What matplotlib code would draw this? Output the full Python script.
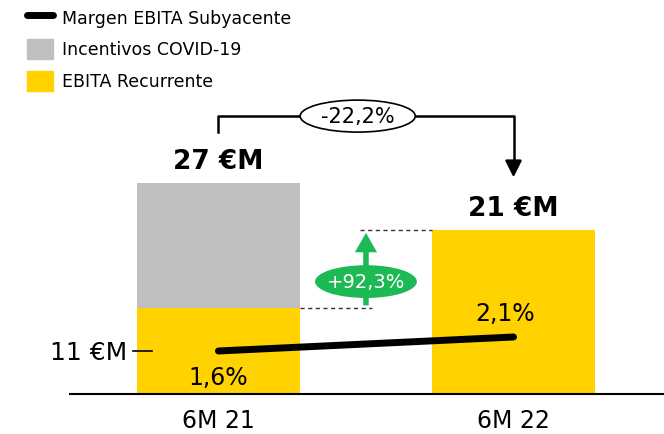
import matplotlib
matplotlib.use('Agg')
import matplotlib.pyplot as plt
from matplotlib.patches import Ellipse, Patch
from matplotlib.lines import Line2D

plt.rcParams['font.family'] = ['DejaVu Sans']

# datos
periodos = ['6M 21', '6M 22']
ebita_recurrente = [11, 21]
incentivos_covid = [16, 0]
margen = [1.6, 2.1]
etiquetas_total = ['27 €M', '21 €M']
etiquetas_margen = ['1,6%', '2,1%']
var_total = '-22,2%'
var_recurrente = '+92,3%'

amarillo = '#FFD200'
gris = '#BFBFBF'
verde = '#1DB954'

fig = plt.figure(figsize=(6.64, 4.35), dpi=100)
ax = fig.add_axes([70/664, 1 - 395/435, 1 - 70/664, 395/435])

x = [0, 1]
total = [a + b for a, b in zip(ebita_recurrente, incentivos_covid)]
ax.bar(x, ebita_recurrente, width=0.553, color=amarillo, zorder=2)
ax.bar(x, incentivos_covid, width=0.553, bottom=ebita_recurrente, color=gris, zorder=2)

ax.set_xlim(-0.503, 1.51)
ax.set_ylim(0, 50.6)
for s in ['top', 'right', 'left']:
    ax.spines[s].set_visible(False)
ax.spines['bottom'].set_linewidth(1.5)
ax.set_yticks([])
ax.set_xticks(x)
ax.set_xticklabels(periodos, fontsize=17)
ax.tick_params(axis='x', length=0, pad=10)

for xi, t, lab in zip(x, total, etiquetas_total):
    ax.text(xi, t + 2.8, lab, ha='center', va='center', fontsize=19, fontweight='bold')

# flecha -22,2%
yb = 35.6
ax.plot([x[0], x[0], x[1], x[1]], [33.5, yb, yb, 29.5], color='black', lw=1.8, zorder=3)
ax.annotate('', xy=(x[1], 27.4), xytext=(x[1], 30),
            arrowprops=dict(arrowstyle='-|>,head_length=1.0,head_width=0.5', color='black', lw=1.8))
ax.add_patch(Ellipse((0.472, yb), 0.39, 4.1, facecolor='white', edgecolor='black', lw=1.2, zorder=4))
ax.text(0.472, yb, var_total, ha='center', va='center', fontsize=15, zorder=5)

# flecha +92,3%
xm = 0.5
ax.plot([0.5 * 0.553, xm + 0.02], [ebita_recurrente[0]] * 2, ls='--', color='#333333', lw=1, dashes=(3, 2.5))
ax.plot([xm - 0.02, x[1] - 0.553 / 2], [total[1]] * 2, ls='--', color='#333333', lw=1, dashes=(3, 2.5))
ax.annotate('', xy=(xm, total[1]), xytext=(xm, ebita_recurrente[0]),
            arrowprops=dict(arrowstyle='simple,head_length=1.4,head_width=1.6,tail_width=0.4',
                            color=verde, lw=0), zorder=4)
ax.add_patch(Ellipse((xm, 14.4), 0.345, 4.2, facecolor=verde, edgecolor='none', zorder=5))
ax.text(xm, 14.4, var_recurrente, ha='center', va='center', fontsize=14, color='white', zorder=6)

# margen
ax2 = ax.twinx()
ax2.set_ylim(0.064, 14.17)
ax2.axis('off')
ax2.plot(x, margen, color='black', lw=5, solid_capstyle='round', zorder=5)
ax2.annotate(etiquetas_margen[0], (x[0], margen[0]), xytext=(0, -26), textcoords='offset pixels',
             ha='center', va='center', fontsize=17)
ax2.annotate(etiquetas_margen[1], (x[1], margen[1]), xytext=(-8, 24), textcoords='offset pixels',
             ha='center', va='center', fontsize=17)

fig.text(127/664, 1 - 353/435, '11 €M', ha='right', va='center', fontsize=18)
fig.add_artist(Line2D([133/664, 152/664], [1 - 352/435] * 2, color='black', lw=1.2))

handles = [Line2D([0], [0], color='black', lw=5, solid_capstyle='round'),
           Patch(color=gris), Patch(color=amarillo)]
fig.legend(handles, ['Margen EBITA Subyacente', 'Incentivos COVID-19', 'EBITA Recurrente'],
           loc='upper left', bbox_to_anchor=(0.017, 1.018), frameon=False, fontsize=12.5,
           handlelength=1.5, handleheight=1.4, labelspacing=0.68, handletextpad=0.5)

fig.savefig('out.png', dpi=100)
